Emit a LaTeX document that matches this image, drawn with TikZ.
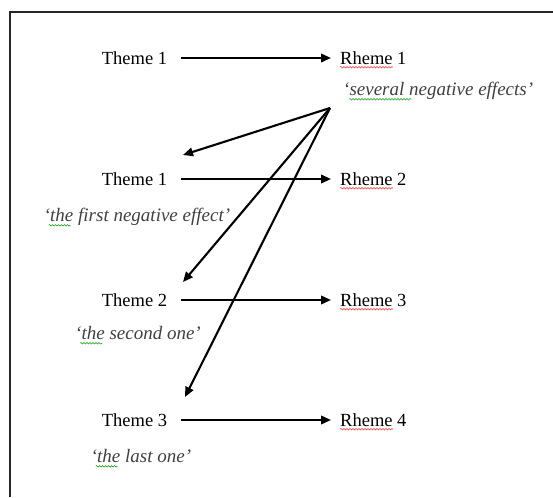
\documentclass[tikz,border=0pt]{standalone}
\usepackage{fontspec}
\setmainfont{Liberation Serif}
\usetikzlibrary{arrows.meta,decorations.pathmorphing}
\begin{document}
\begin{tikzpicture}[x=1pt,y=-1pt,
  lbl/.style={font=\fontsize{18.5}{22}\selectfont, inner sep=0pt, text height=12.5pt, text depth=0pt},
  gloss/.style={font=\fontsize{19}{22}\selectfont\itshape, text=black!75, inner sep=0pt},
  arr/.style={line width=2.1pt, -{Triangle[length=10pt,width=8.5pt]}},
  frame/.style={line width=2.2pt, draw=black!85},
  squig/.style={line width=0.5pt, decorate, decoration={snake, amplitude=0.8pt, segment length=3pt}},
  redsq/.style={squig, draw=red!80},
  greensq/.style={squig, draw=green!60!black}
]
\useasboundingbox (0,0) rectangle (553,497);
\draw[frame] (10,497) -- (10,12) -- (553,12);

% themes
\node[lbl] (t1) at (134.5,58) {Theme 1};
\node[lbl] (t2) at (134.5,179) {Theme 1};
\node[lbl] (t3) at (134.5,300) {Theme 2};
\node[lbl] (t4) at (134.5,420) {Theme 3};
% rhemes
\node[lbl, anchor=west] (r1) at (340,58) {Rheme 1};
\node[lbl, anchor=west] (r2) at (340,179) {Rheme 2};
\node[lbl, anchor=west] (r3) at (340,300) {Rheme 3};
\node[lbl, anchor=west] (r4) at (340,420) {Rheme 4};
% glosses
\node[gloss, anchor=mid west] (g1) at (343,93) {`several negative effects'};
\node[gloss, anchor=mid] (g2) at (137,219) {`the first negative effect'};
\node[gloss, anchor=mid] (g3) at (138,337) {`the second one'};
\node[gloss, anchor=mid] (g4) at (141,460) {`the last one'};

% horizontal arrows
\foreach \i in {1,2,3,4}
  \draw[arr] ([xshift=14pt]t\i.east) -- ([xshift=-9pt]r\i.west);

% fan of arrows
\coordinate (src) at (330,108);
\coordinate (tip1) at (183,155);
\coordinate (tip2) at (183,282);
\coordinate (tip3) at (185,397);
\draw[arr] (src) -- (tip1);
\draw[arr] (src) -- (tip2);
\draw[arr] (src) -- (tip3);

% spell-check squiggles
\foreach \i in {1,2,3,4}
  \draw[redsq] ([yshift=-3pt]r\i.base west) -- ++(53,0);
\draw[greensq] ([xshift=6pt,yshift=-4pt]g1.base west) -- ++(62,0);
\foreach \i in {2,3,4}
  \draw[greensq] ([xshift=5pt,yshift=-4pt]g\i.base west) -- ++(22,0);
\end{tikzpicture}
\end{document}
